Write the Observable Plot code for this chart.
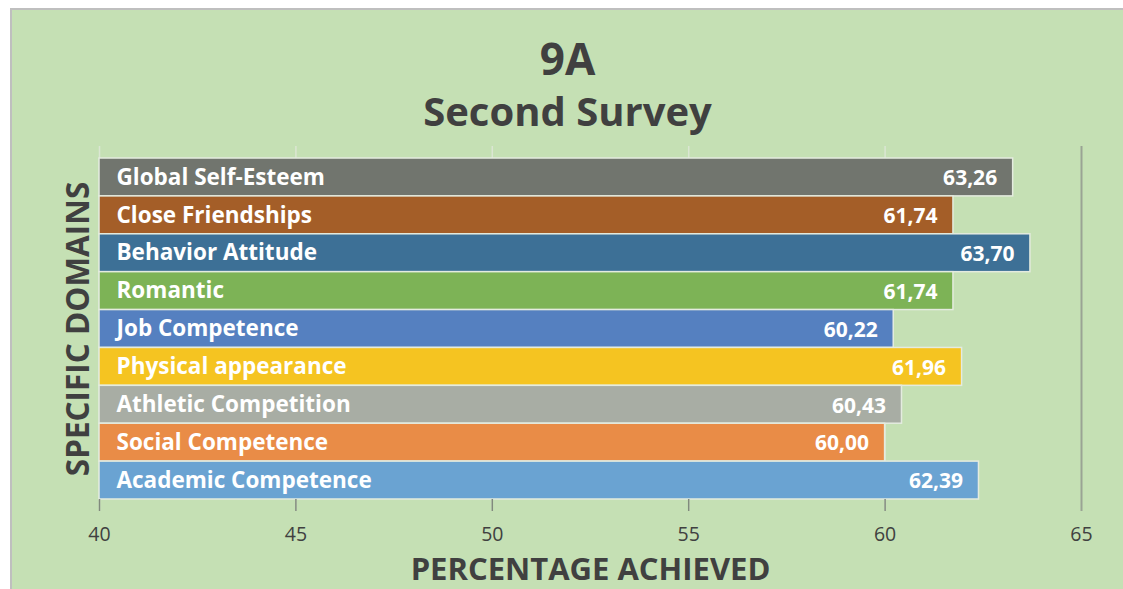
<!DOCTYPE html>
<html><head><meta charset="utf-8">
<script src="https://cdn.jsdelivr.net/npm/d3@7"></script>
<script src="https://cdn.jsdelivr.net/npm/@observablehq/plot@0.6"></script>
<style>
html,body{margin:0;padding:0;background:#fff;width:1123px;height:589px;overflow:hidden;}
#box{position:absolute;left:10px;top:8px;width:1125px;height:590px;border-left:2px solid #bfbfbf;border-top:2px solid #bfbfbf;background:#c5e0b4;font-family:"Open Sans",sans-serif;color:#404040;}
#titles{position:relative;height:135px;width:1111px;}
#t1,#t2{position:absolute;left:0;right:0;text-align:center;font-weight:700;line-height:50px;white-space:nowrap;}
#t1{top:23px;font-size:44px;}
#t2{top:76px;font-size:40px;}
#chart svg{display:block;}
</style></head><body>
<div id="box"><div id="titles"><div id="t1"></div><div id="t2"></div></div><div id="chart"></div></div>
<script>
const title = "9A";
const subtitle = "Second Survey";
const xTitle = "PERCENTAGE ACHIEVED";
const yTitle = "SPECIFIC DOMAINS";
const categories = ["Global Self-Esteem", "Close Friendships", "Behavior Attitude", "Romantic", "Job Competence", "Physical appearance", "Athletic Competition", "Social Competence", "Academic Competence"];
const values = [63.26, 61.74, 63.70, 61.74, 60.22, 61.96, 60.43, 60.00, 62.39];
const colors = ["#71756e", "#a45e28", "#3d7096", "#7db356", "#5580c0", "#f5c421", "#a8ada4", "#e98c47", "#6aa3d2"];
const xTicks = [40, 45, 50, 55, 60, 65];
const gridTicks = [40, 45, 50, 55, 60];
const xMin = 40, xMax = 65;

document.getElementById("t1").textContent = title;
document.getElementById("t2").textContent = subtitle;

const data = categories.map((c, i) => ({category: c, value: values[i], color: colors[i]}));
const overlay = categories.flatMap(c => gridTicks.map(t => ({category: c, t})));
const fmt = v => v.toFixed(2).replace(".", ",");

const plot = Plot.plot({
  width: 1111, height: 444,
  marginTop: 1, marginBottom: 78, marginLeft: 87, marginRight: 42,
  style: {background: "transparent", fontFamily: "'Open Sans', sans-serif", color: "#404040", overflow: "visible"},
  x: {domain: [xMin, xMax]},
  y: {domain: categories, paddingInner: 0, paddingOuter: 0.317, round: false, axis: null},
  color: {type: "identity"},
  marks: [
    Plot.gridX(gridTicks, {stroke: "#dbe6d3", strokeOpacity: 1, strokeWidth: 1.5}),
    Plot.barX(data, {x1: xMin, x2: "value", y: "category", fill: "color", stroke: "#e4ebdf", strokeWidth: 1.5}),
    Plot.ruleX(overlay, {x: "t", y: "category", stroke: "#000", strokeOpacity: 0.07}),
    Plot.ruleX([xMax], {stroke: "#9aa394", strokeWidth: 2}),
    Plot.ruleX(gridTicks, {stroke: "#808a7c", strokeWidth: 1.5, insetTop: 353}),
    Plot.axisX(xTicks, {tickSize: 0, tickPadding: 16, fontSize: 19.5, fill: "#404040", label: null}),
    Plot.text(data, {x: xMin, y: "category", text: "category", textAnchor: "start", dx: 17, dy: 0, fill: "white", fontSize: 22.5, fontWeight: 700}),
    Plot.text(data, {x: "value", y: "category", text: d => fmt(d.value), textAnchor: "end", dx: -16, dy: 1, fill: "white", fontSize: 21, fontWeight: 700}),
    Plot.text([xTitle], {text: d => d, frameAnchor: "bottom", lineAnchor: "middle", dy: 59, fontSize: 31, fontWeight: 700, fill: "#404040"}),
    Plot.text([yTitle], {text: d => d, frameAnchor: "left", textAnchor: "middle", lineAnchor: "middle", dx: -21, rotate: -90, fontSize: 31.5, fontWeight: 700, fill: "#404040"})
  ]
});
document.getElementById("chart").appendChild(plot);
</script>
</body></html>
